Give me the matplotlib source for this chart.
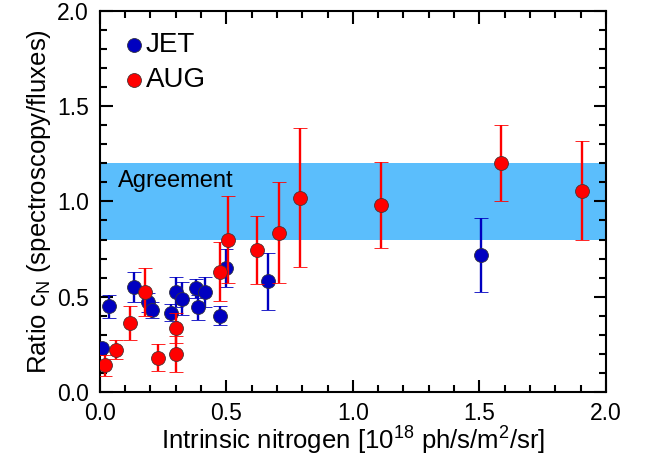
import numpy as np
import matplotlib
matplotlib.use("Agg")
import matplotlib.pyplot as plt
from matplotlib.ticker import MultipleLocator, FormatStrFormatter

plt.rcParams['font.family'] = ['Liberation Sans', 'DejaVu Sans']
plt.rcParams['mathtext.fontset'] = 'custom'
plt.rcParams['mathtext.rm'] = 'Liberation Sans'
plt.rcParams['mathtext.it'] = 'Liberation Sans'

# JET shots: intrinsic nitrogen, ratio, error
jet_x = [0.01, 0.035, 0.135, 0.19, 0.205, 0.28, 0.30, 0.325, 0.38, 0.39, 0.415, 0.475, 0.50, 0.665, 1.505]
jet_y = [0.23, 0.45, 0.55, 0.47, 0.43, 0.415, 0.525, 0.49, 0.545, 0.445, 0.525, 0.40, 0.65, 0.58, 0.72]
jet_err = [0.0, 0.06, 0.08, 0.05, 0.04, 0.045, 0.08, 0.085, 0.05, 0.065, 0.08, 0.05, 0.10, 0.15, 0.195]

# AUG shots
aug_x = [0.02, 0.065, 0.12, 0.18, 0.23, 0.30, 0.30, 0.475, 0.505, 0.62, 0.71, 0.79, 1.11, 1.585, 1.905]
aug_y = [0.14, 0.22, 0.36, 0.525, 0.18, 0.335, 0.20, 0.63, 0.80, 0.745, 0.835, 1.02, 0.98, 1.20, 1.055]
aug_err = [0.055, 0.05, 0.09, 0.125, 0.07, 0.08, 0.095, 0.155, 0.23, 0.18, 0.265, 0.365, 0.225, 0.20, 0.26]

agree_lo, agree_hi = 0.8, 1.2

fig = plt.figure(figsize=(6.48, 4.61), dpi=100)
ax = fig.add_axes([0.154, 0.150, 0.781, 0.826])

ax.axhspan(agree_lo, agree_hi, color='#5bbefc', lw=0, zorder=0)
ax.text(0.07, 1.11, 'Agreement', fontsize=17, va='center')

blue = '#0000c0'
red = '#ff0000'
ax.errorbar(jet_x, jet_y, yerr=jet_err, fmt='o', color=blue, ecolor=blue,
            ms=10, mec='#303040', mew=0.6, elinewidth=1.7, capsize=5, capthick=1.7, zorder=3)
ax.errorbar(aug_x, aug_y, yerr=aug_err, fmt='o', color=red, ecolor=red,
            ms=10, mec='#503030', mew=0.6, elinewidth=1.7, capsize=5, capthick=1.7, zorder=4)

# legend drawn by hand like the IDL original
ax.plot([0.135], [1.82], 'o', color=blue, ms=10, mec='#303040', mew=0.6, clip_on=False)
ax.text(0.182, 1.82, 'JET', fontsize=20, va='center')
ax.plot([0.135], [1.64], 'o', color=red, ms=10, mec='#503030', mew=0.6, clip_on=False)
ax.text(0.182, 1.64, 'AUG', fontsize=20, va='center')

ax.set_xlim(0, 2.0)
ax.set_ylim(0, 2.0)
ax.xaxis.set_major_locator(MultipleLocator(0.5))
ax.xaxis.set_minor_locator(MultipleLocator(0.1))
ax.yaxis.set_major_locator(MultipleLocator(0.5))
ax.yaxis.set_minor_locator(MultipleLocator(0.1))
ax.xaxis.set_major_formatter(FormatStrFormatter('%.1f'))
ax.yaxis.set_major_formatter(FormatStrFormatter('%.1f'))
ax.tick_params(which='both', direction='in', top=True, right=True, labelsize=16.5, width=1.5)
ax.tick_params(which='major', length=9, pad=8)
ax.tick_params(axis='x', which='major', pad=7)
ax.tick_params(which='minor', length=5)
for s in ax.spines.values():
    s.set_linewidth(1.5)

ax.set_xlabel('Intrinsic nitrogen [10$^{18}$ ph/s/m$^2$/sr]', fontsize=18.5, labelpad=0)
ax.set_ylabel('Ratio c$_\\mathrm{N}$ (spectroscopy/fluxes)', fontsize=18.5, labelpad=3)

fig.savefig('out.png', dpi=100)
